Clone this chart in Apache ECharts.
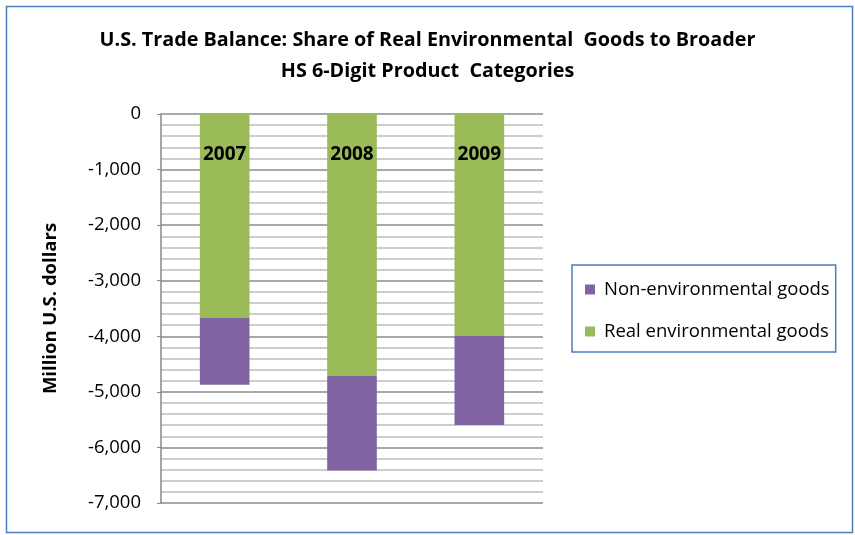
<!DOCTYPE html>
<html><head><meta charset="utf-8">
<script src="https://cdn.jsdelivr.net/npm/echarts@6/dist/echarts.min.js"></script>
<style>html,body{margin:0;padding:0;background:#fff}#c{width:855px;height:535px}</style>
</head><body><div id="c"></div>
<script>
const years = ['2007', '2008', '2009'];
const realEnvironmental = [-3660, -4710, -3990];
const nonEnvironmental = [-1210, -1705, -1605];
const titleLines = ['U.S. Trade Balance: Share of Real Environmental  Goods to Broader', 'HS 6-Digit Product  Categories'];
const yAxisName = 'Million U.S. dollars';
const seriesNames = ['Non-environmental goods', 'Real environmental goods'];

const FONT = 'Open Sans';
const chart = echarts.init(document.getElementById('c'));
chart.setOption({
  animation: false,
  backgroundColor: '#fff',
  graphic: [{
    type: 'rect', left: 4, top: 4,
    shape: { width: 846, height: 526 },
    style: { fill: 'none', stroke: '#4a7ebb', lineWidth: 1.5 }
  }],
  title: {
    text: titleLines.join('\n'),
    left: 'center', top: 20,
    textStyle: { fontFamily: FONT, fontWeight: 'bold', fontSize: 19.8, lineHeight: 31, color: '#000' }
  },
  legend: {
    orient: 'vertical', left: 572, top: 265,
    data: seriesNames,
    padding: [15, 6, 11, 13],
    itemGap: 23,
    itemWidth: 10, itemHeight: 10,
    icon: 'rect',
    borderColor: '#4a7ebb', borderWidth: 1.5,
    textStyle: { fontFamily: FONT, fontSize: 18.5, color: '#000', padding: [0, 0, 0, 4] }
  },
  grid: { left: 161, right: 312, top: 114, height: 389 },
  xAxis: {
    type: 'category', data: years, position: 'top',
    axisLine: { show: false }, axisTick: { show: false },
    axisLabel: { inside: true, margin: 31, fontFamily: FONT, fontWeight: 'bold', fontSize: 19, color: '#000' },
    z: 10
  },
  yAxis: {
    type: 'value', min: -7000, max: 0, interval: 1000,
    name: yAxisName, nameLocation: 'middle', nameGap: 101, nameRotate: 90,
    nameTextStyle: { fontFamily: FONT, fontWeight: 'bold', fontSize: 18.5, color: '#000' },
    axisLine: { show: true, lineStyle: { color: '#888', width: 1.5 } },
    axisTick: { show: true, length: 4, lineStyle: { color: '#888' } },
    axisLabel: { fontFamily: FONT, fontSize: 18.5, color: '#000', margin: 20,
      formatter: v => v === 0 ? '0' : v.toLocaleString('en-US') },
    splitLine: { show: true, lineStyle: { color: '#8c8c8c', width: 1.5 } },
    minorTick: { show: false, splitNumber: 5 },
    minorSplitLine: { show: true, lineStyle: { color: '#bdbdbd', width: 1.5 } }
  },
  series: [
    { name: seriesNames[1], type: 'bar', stack: 'a', data: realEnvironmental,
      barWidth: '39%', itemStyle: { color: '#9bbb59' } },
    { name: seriesNames[0], type: 'bar', stack: 'a', data: nonEnvironmental,
      barWidth: '39%', itemStyle: { color: '#8064a2' } }
  ]
});
</script></body></html>
